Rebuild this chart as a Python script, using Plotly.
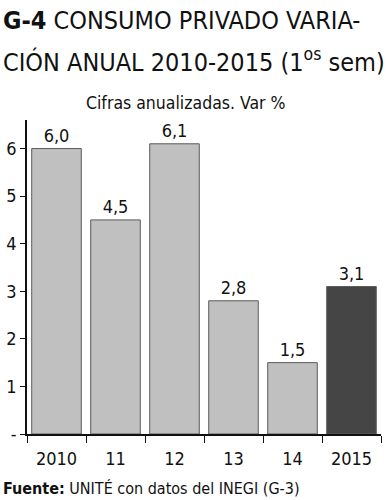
import plotly.graph_objects as go

categories = ["2010", "11", "12", "13", "14", "2015"]
values = [6.0, 4.5, 6.1, 2.8, 1.5, 3.1]
value_labels = ["6,0", "4,5", "6,1", "2,8", "1,5", "3,1"]
y_tick_vals = [0, 1, 2, 3, 4, 5, 6]
y_tick_text = ["-", "1", "2", "3", "4", "5", "6"]
bar_colors = ["#c0c0c0", "#c0c0c0", "#c0c0c0", "#c0c0c0", "#c0c0c0", "#454545"]

FONT = "DejaVu Sans Condensed, Roboto, sans-serif"

L, R, T, B = 27, 10, 120, 66
WIDTH, HEIGHT = 391, 500
H = HEIGHT - T - B
W = WIDTH - L - R
def py(pix_y):
    return (HEIGHT - B - pix_y) / H
def px(pix_x):
    return (pix_x - L) / W

fig = go.Figure()
fig.add_trace(go.Bar(
    x=categories, y=values,
    marker=dict(color=bar_colors, line=dict(color="#5a5a5a", width=1)),
    text=value_labels, textposition="outside", cliponaxis=False,
    textfont=dict(family=FONT, size=18, color="#111"),
    width=0.84, hoverinfo="skip",
))

fig.update_layout(
    width=WIDTH, height=HEIGHT,
    margin=dict(l=L, r=R, t=T, b=B),
    paper_bgcolor="white", plot_bgcolor="white",
    showlegend=False,
    font=dict(family=FONT, color="#111"),
    xaxis=dict(
        type="category", showline=True, linecolor="#111", linewidth=1.5,
        ticks="outside", tickson="boundaries", ticklen=7, tickcolor="#111",
        tickfont=dict(family=FONT, size=18, color="#111"),
        ticklabelstandoff=8,
        showgrid=False, zeroline=False, automargin=False,
    ),
    yaxis=dict(
        range=[0, 6.6], showline=True, linecolor="#111", linewidth=1.5,
        ticks="outside", ticklen=5, tickcolor="#111",
        tickvals=y_tick_vals, ticktext=y_tick_text,
        tickfont=dict(family=FONT, size=18, color="#111"),
        showgrid=False, zeroline=False, automargin=False,
    ),
    annotations=[
        dict(x=px(1), y=py(21), xref="paper", yref="paper", xanchor="left", yanchor="middle",
             text="<b>G-4</b> CONSUMO PRIVADO VARIA-",
             showarrow=False, align="left",
             font=dict(family=FONT, size=25, color="#111")),
        dict(x=px(1), y=py(60), xref="paper", yref="paper", xanchor="left", yanchor="middle",
             text="CIÓN ANUAL 2010-2015 (1<sup>os</sup> sem)",
             showarrow=False, align="left",
             font=dict(family=FONT, size=25, color="#111")),
        dict(x=px(186), y=py(103), xref="paper", yref="paper", xanchor="center", yanchor="middle",
             text="Cifras anualizadas. Var %", showarrow=False,
             font=dict(family=FONT, size=17.5, color="#111")),
        dict(x=px(1), y=py(488), xref="paper", yref="paper", xanchor="left", yanchor="middle",
             text="<b>Fuente:</b> UNITÉ con datos del INEGI (G-3)", showarrow=False,
             font=dict(family=FONT, size=16, color="#111")),
    ],
)

fig.write_html("out.html", config={"displayModeBar": False},
               post_script="document.body.style.margin='0';")
